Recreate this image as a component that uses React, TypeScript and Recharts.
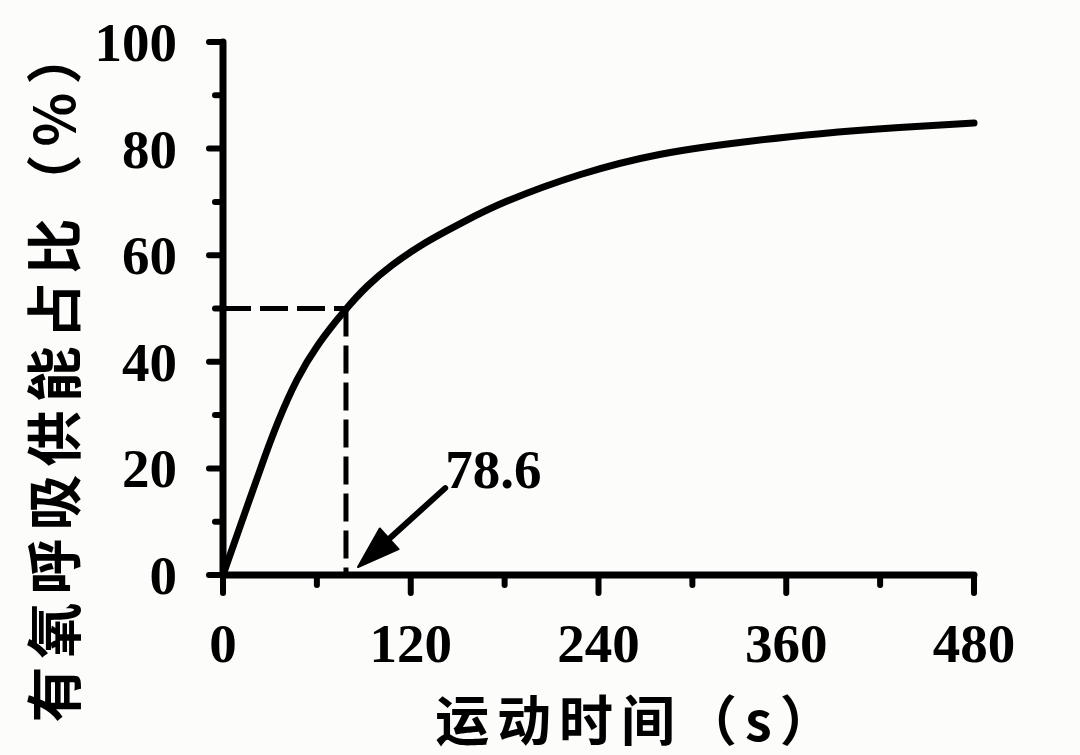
import { LineChart, Line, XAxis, YAxis, ReferenceLine } from 'recharts';

// curve: time (s) vs share of aerobic supply (%)
const timeS = [0, 18, 27, 35, 47, 60, 78.6, 92, 107, 128, 154, 177, 228, 279, 330, 382, 433, 480];
const aerobicPct = [0, 15, 22.5, 28.8, 36.8, 43.2, 50, 54.3, 58, 62.3, 66.3, 69.8, 75.4, 79.2, 81.2, 82.9, 84.0, 84.8];

const xTicks = [0, 60, 120, 180, 240, 300, 360, 420, 480];
const yTicks = [0, 10, 20, 30, 40, 50, 60, 70, 80, 90, 100];

const halfTime = 78.6;
const halfPct = 50;
const arrowFrom = { x: 142, y: 16.3 };
const arrowTo = { x: 86.3, y: 1.5 };
const arrowLabel = '78.6';

const xTitle = '运动时间（s）';
const yTitle = '有氧呼吸供能占比（%）';

const data = timeS.map((t, i) => ({ t, pct: aerobicPct[i] }));

const tickFont = '"Liberation Serif", "Times New Roman", serif';
const cjkFont = '"Noto Sans CJK SC", "Noto Sans", sans-serif';
const ink = '#000';

function XTick({ x, y, payload }: any) {
  const major = payload.value % 120 === 0;
  return (
    <g>
      <line x1={x} y1={y} x2={x} y2={y + (major ? 18 : 10)} stroke={ink} strokeWidth={6} strokeLinecap="round" />
      {major && (
        <text x={x} y={y + 87} textAnchor="middle" fontFamily={tickFont} fontWeight={700} fontSize={55} fill={ink}>
          {payload.value}
        </text>
      )}
    </g>
  );
}

function YTick({ x, y, payload }: any) {
  const major = payload.value % 20 === 0;
  return (
    <g>
      <line x1={x - (major ? 14 : 8)} y1={y} x2={x} y2={y} stroke={ink} strokeWidth={6} strokeLinecap="round" />
      {major && (
        <text x={x - 46} y={y + 19} textAnchor="end" fontFamily={tickFont} fontWeight={700} fontSize={55} fill={ink}>
          {payload.value}
        </text>
      )}
    </g>
  );
}

function Arrow(props: any) {
  const { x1, y1, x2, y2 } = props;
  const dx = x2 - x1;
  const dy = y2 - y1;
  const len = Math.sqrt(dx * dx + dy * dy);
  const ux = dx / len;
  const uy = dy / len;
  const headLen = 42;
  const headHalf = 14;
  const bx = x2 - ux * headLen;
  const by = y2 - uy * headLen;
  const pts = [
    `${x2},${y2}`,
    `${bx - uy * headHalf},${by + ux * headHalf}`,
    `${bx + uy * headHalf},${by - ux * headHalf}`,
  ].join(' ');
  return (
    <g>
      <line x1={x1} y1={y1} x2={bx + ux * 4} y2={by + uy * 4} stroke={ink} strokeWidth={6} strokeLinecap="round" />
      <polygon points={pts} fill={ink} stroke={ink} strokeWidth={2} strokeLinejoin="round" />
      <text x={x1} y={y1} textAnchor="start" fontFamily={tickFont} fontWeight={700} fontSize={55} fill={ink}>
        {arrowLabel}
      </text>
    </g>
  );
}

export default function App() {
  return (
    <div style={{ position: 'absolute', left: 0, top: 0, width: 1080, height: 755, background: '#fcfcfa' }}>
      <LineChart width={1080} height={755} data={data} margin={{ top: 42, right: 106, bottom: 0, left: 0 }}>
        <XAxis
          dataKey="t"
          type="number"
          domain={[0, 480]}
          ticks={xTicks}
          interval={0}
          height={180}
          tickSize={0}
          tickMargin={0}
          tickLine={false}
          axisLine={{ stroke: ink, strokeWidth: 7, strokeLinecap: 'round' }}
          tick={<XTick />}
          label={{
            content: ({ viewBox }: any) => (
              <text
                x={viewBox.x + viewBox.width / 2 + 40}
                y={viewBox.y + 142}
                textAnchor="middle"
                dominantBaseline="central"
                fontFamily={cjkFont}
                fontWeight={700}
                fontSize={54}
                letterSpacing={8}
                fill={ink}
              >
                {xTitle}
              </text>
            ),
          }}
        />
        <YAxis
          type="number"
          domain={[0, 100]}
          ticks={yTicks}
          interval={0}
          width={223}
          tickSize={0}
          tickMargin={0}
          tickLine={false}
          axisLine={{ stroke: ink, strokeWidth: 7, strokeLinecap: 'round' }}
          tick={<YTick />}
          label={{
            content: ({ viewBox }: any) => {
              const cx = 50;
              const cy = viewBox.y + viewBox.height / 2 + 63;
              return (
                <text
                  x={cx}
                  y={cy}
                  transform={`rotate(-90, ${cx}, ${cy})`}
                  textAnchor="middle"
                  dominantBaseline="central"
                  fontFamily={cjkFont}
                  fontWeight={700}
                  fontSize={56}
                  letterSpacing={8}
                  fill={ink}
                >
                  {yTitle}
                </text>
              );
            },
          }}
        />
        <ReferenceLine
          segment={[{ x: 0, y: halfPct }, { x: halfTime, y: halfPct }]}
          stroke={ink}
          strokeWidth={5}
          strokeDasharray="28 9"
        />
        <ReferenceLine
          segment={[{ x: halfTime, y: halfPct }, { x: halfTime, y: 0 }]}
          stroke={ink}
          strokeWidth={5}
          strokeDasharray="28 9"
        />
        <ReferenceLine segment={[arrowFrom, arrowTo]} shape={<Arrow />} />
        <Line
          type="basis"
          dataKey="pct"
          stroke={ink}
          strokeWidth={7}
          strokeLinecap="round"
          dot={false}
          activeDot={false}
          isAnimationActive={false}
        />
      </LineChart>
    </div>
  );
}
